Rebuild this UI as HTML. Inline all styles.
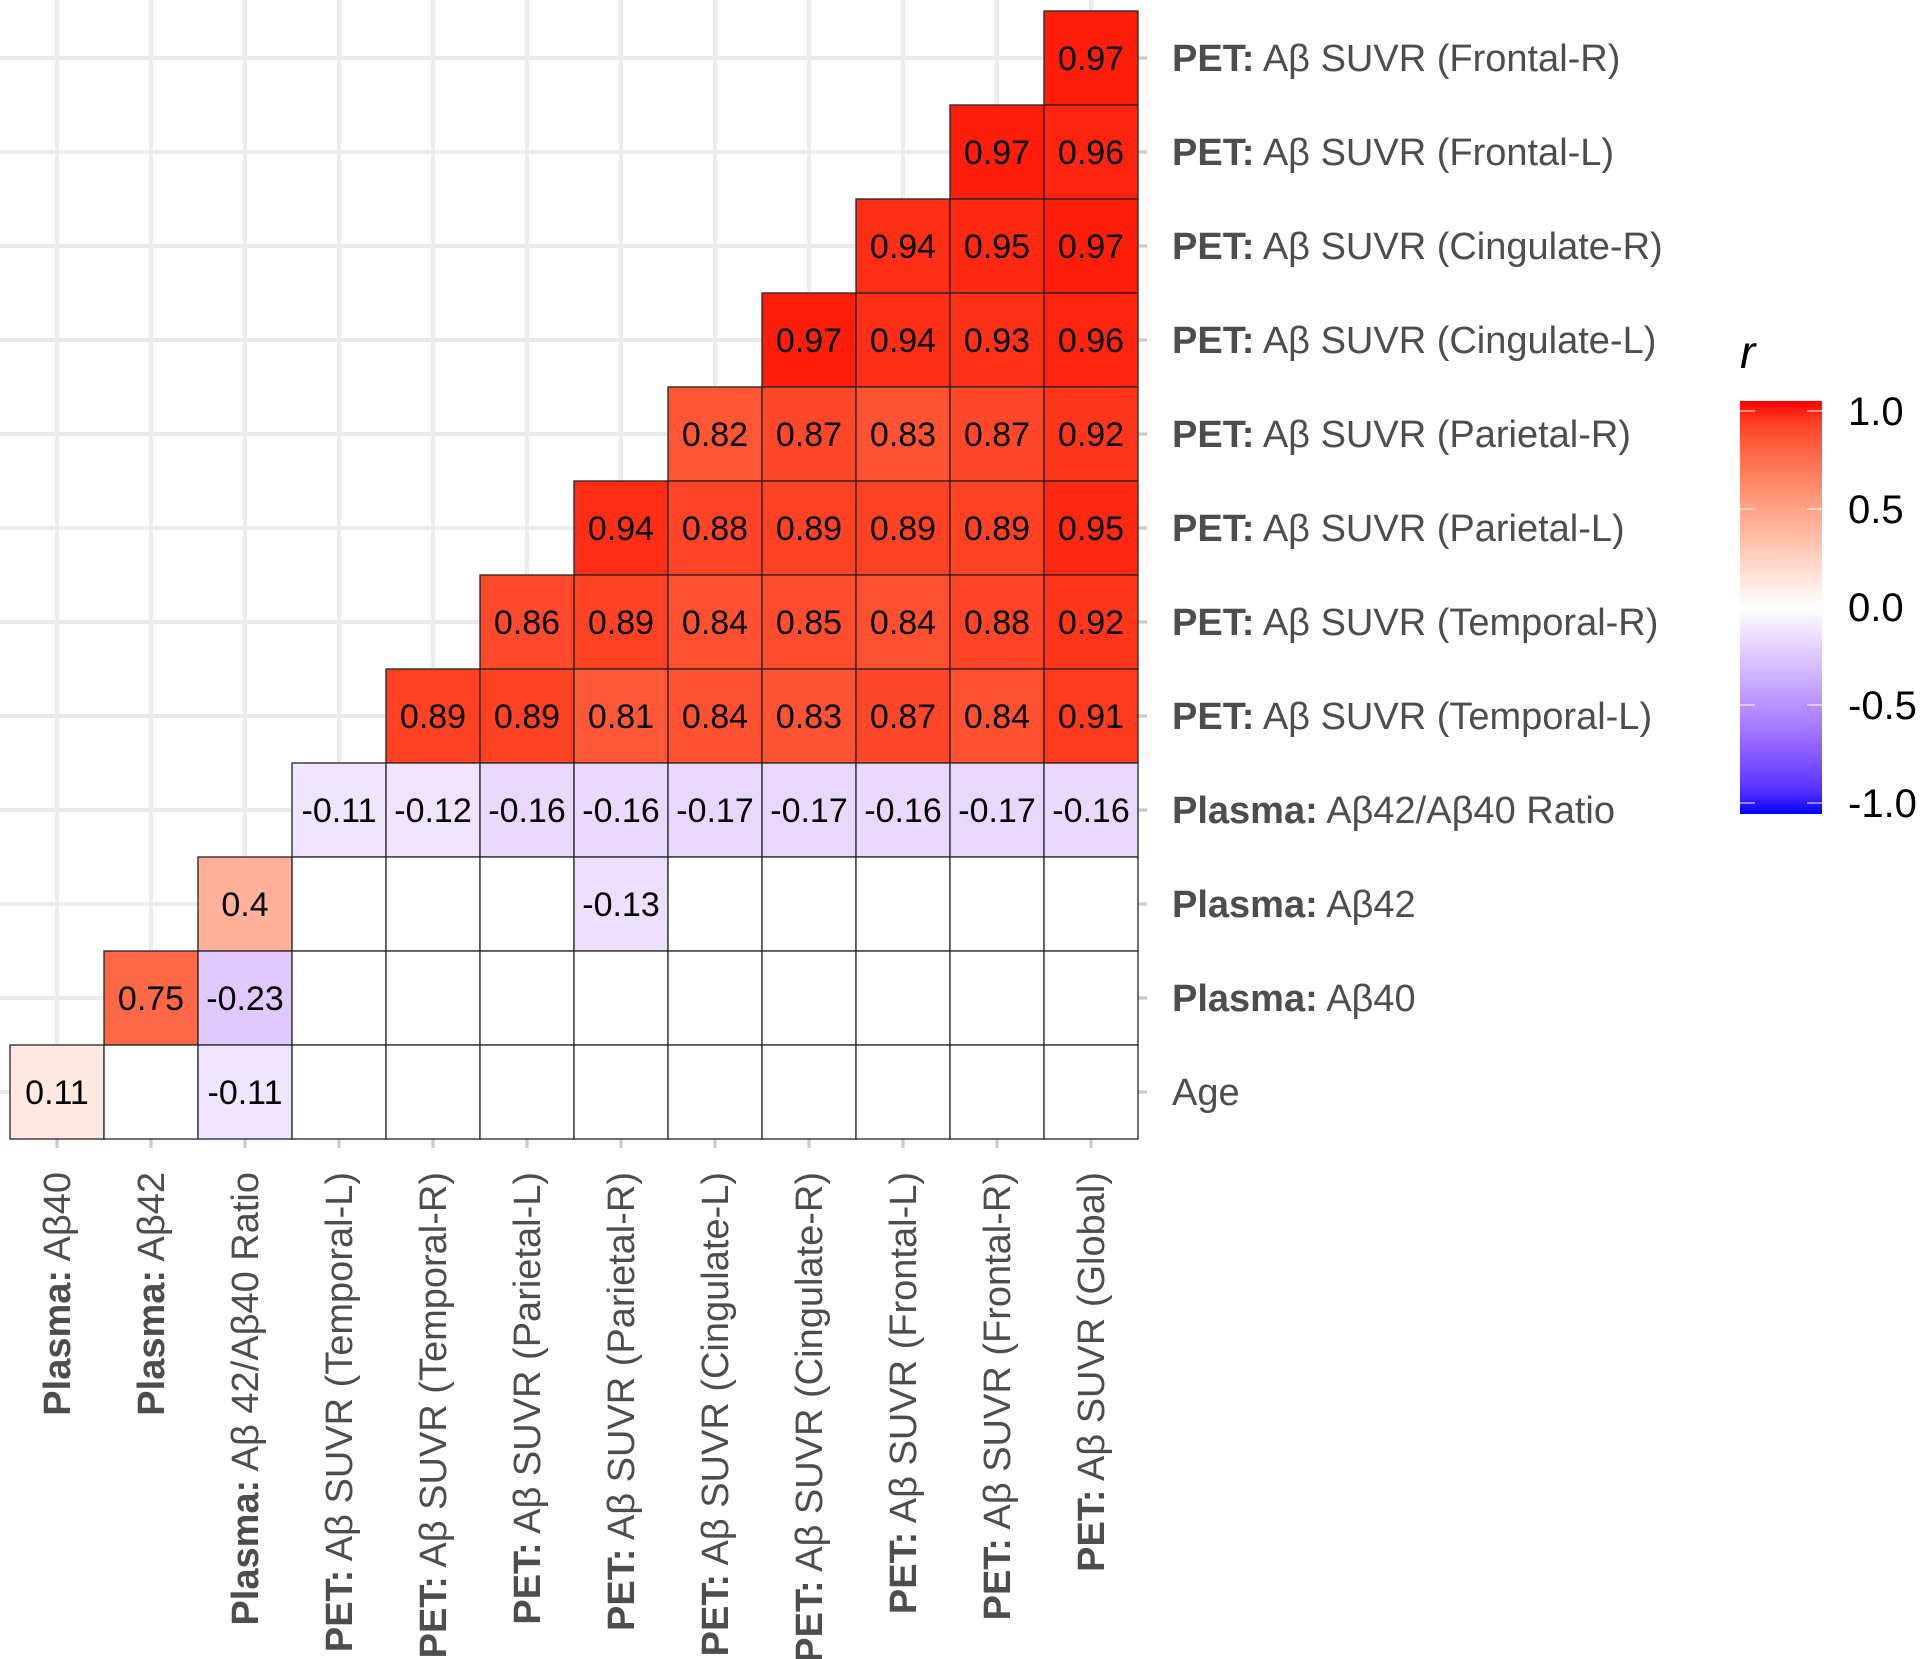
<!DOCTYPE html>
<html><head><meta charset="utf-8"><style>
html,body{margin:0;padding:0;background:#fff;}
svg{display:block;font-family:"Liberation Sans",sans-serif;}
</style></head><body>
<svg id="chart" width="1921" height="1659" viewBox="0 0 1921 1659">
<g id="grid"></g><g id="tiles"></g><g id="ylabels"></g><g id="xlabels"></g><g id="legend"></g>
</svg>
<script>
const colLabels = [["Plasma:"," Aβ40"],["Plasma:"," Aβ42"],["Plasma:"," Aβ 42/Aβ40 Ratio"],["PET:"," Aβ SUVR (Temporal-L)"],["PET:"," Aβ SUVR (Temporal-R)"],["PET:"," Aβ SUVR (Parietal-L)"],["PET:"," Aβ SUVR (Parietal-R)"],["PET:"," Aβ SUVR (Cingulate-L)"],["PET:"," Aβ SUVR (Cingulate-R)"],["PET:"," Aβ SUVR (Frontal-L)"],["PET:"," Aβ SUVR (Frontal-R)"],["PET:"," Aβ SUVR (Global)"]];
const rowLabels = [["PET:"," Aβ SUVR (Frontal-R)"],["PET:"," Aβ SUVR (Frontal-L)"],["PET:"," Aβ SUVR (Cingulate-R)"],["PET:"," Aβ SUVR (Cingulate-L)"],["PET:"," Aβ SUVR (Parietal-R)"],["PET:"," Aβ SUVR (Parietal-L)"],["PET:"," Aβ SUVR (Temporal-R)"],["PET:"," Aβ SUVR (Temporal-L)"],["Plasma:"," Aβ42/Aβ40 Ratio"],["Plasma:"," Aβ42"],["Plasma:"," Aβ40"],["","Age"]];
// values per row, starting at column (11 - rowIndex); null = not significant (white tile)
const rowValues = [
 [0.97],
 [0.97,0.96],
 [0.94,0.95,0.97],
 [0.97,0.94,0.93,0.96],
 [0.82,0.87,0.83,0.87,0.92],
 [0.94,0.88,0.89,0.89,0.89,0.95],
 [0.86,0.89,0.84,0.85,0.84,0.88,0.92],
 [0.89,0.89,0.81,0.84,0.83,0.87,0.84,0.91],
 [-0.11,-0.12,-0.16,-0.16,-0.17,-0.17,-0.16,-0.17,-0.16],
 [0.4,null,null,null,-0.13,null,null,null,null,null],
 [0.75,-0.23,null,null,null,null,null,null,null,null,null],
 [0.11,null,-0.11,null,null,null,null,null,null,null,null,null]
];
const legendTicks = [1.0,0.5,0.0,-0.5,-1.0];

const NS="http://www.w3.org/2000/svg";
const X0=10,Y0=11,CELL=94,N=12;
const xPos=c=>X0+c*CELL, yPos=r=>Y0+r*CELL;
function mk(tag,attrs,parent){const e=document.createElementNS(NS,tag);for(const k in attrs)e.setAttribute(k,attrs[k]);parent.appendChild(e);return e;}
function toLin(c){c/=255;return c<=0.04045?c/12.92:Math.pow((c+0.055)/1.055,2.4);}
function fromLin(c){c=c<=0.0031308?12.92*c:1.055*Math.pow(c,1/2.4)-0.055;return Math.max(0,Math.min(255,Math.round(c*255)));}
function rgb2lab(r,g,b){r=toLin(r);g=toLin(g);b=toLin(b);let x=(r*0.4124+g*0.3576+b*0.1805)/0.95047,y=r*0.2126+g*0.7152+b*0.0722,z=(r*0.0193+g*0.1192+b*0.9505)/1.08883;const f=t=>t>0.008856?Math.cbrt(t):7.787*t+16/116;x=f(x);y=f(y);z=f(z);return[116*y-16,500*(x-y),200*(y-z)];}
function lab2rgb(L,a,b){let y=(L+16)/116,x=a/500+y,z=y-b/200;const g=t=>t*t*t>0.008856?t*t*t:(t-16/116)/7.787;x=g(x)*0.95047;y=g(y);z=g(z)*1.08883;const r=x*3.2406+y*-1.5372+z*-0.4986,gg=x*-0.9689+y*1.8758+z*0.0415,bb=x*0.0557+y*-0.2040+z*1.0570;return`rgb(${fromLin(r)},${fromLin(gg)},${fromLin(bb)})`;}
const W=rgb2lab(255,255,255),R=rgb2lab(255,0,0),B=rgb2lab(0,0,255);
function col(v){const t=Math.min(1,Math.abs(v)),e=v>=0?R:B;return lab2rgb(W[0]+(e[0]-W[0])*t,W[1]+(e[1]-W[1])*t,W[2]+(e[2]-W[2])*t);}

const grid=document.getElementById('grid');
for(let i=0;i<N;i++){
  const l1=mk('line',{x1:xPos(i)+CELL/2,x2:xPos(i)+CELL/2,y1:0,y2:Y0+N*CELL+9,stroke:'#ebebeb','stroke-width':4},grid);
  
  
  const l2=mk('line',{x1:0,x2:X0+N*CELL+9,y1:yPos(i)+CELL/2,y2:yPos(i)+CELL/2,stroke:'#ebebeb','stroke-width':4},grid);
  
  
  const t1=mk('line',{x1:xPos(i)+CELL/2,x2:xPos(i)+CELL/2,y1:Y0+N*CELL,y2:Y0+N*CELL+9,stroke:'#cccccc','stroke-width':3},grid);
  
  
  const t2=mk('line',{x1:X0+N*CELL,x2:X0+N*CELL+9,y1:yPos(i)+CELL/2,y2:yPos(i)+CELL/2,stroke:'#cccccc','stroke-width':3},grid);
  
  
}
const tiles=document.getElementById('tiles');
rowValues.forEach((vals,r)=>{
  const start=11-r;
  vals.forEach((v,k)=>{
    const c=start+k;
    const rect=mk('rect',{x:xPos(c),y:yPos(r),width:CELL,height:CELL,fill:v===null?'#ffffff':col(v),stroke:'#222','stroke-width':1.3},tiles);
    
    
    if(v!==null){
      const t=mk('text',{x:xPos(c)+CELL/2,y:yPos(r)+CELL/2+12,'text-anchor':'middle','font-size':34,fill:'#000'},tiles);
      t.textContent=String(v);
      
      
    }
  });
});
const yl=document.getElementById('ylabels');
rowLabels.forEach((lab,r)=>{
  const t=mk('text',{x:1172,y:yPos(r)+CELL/2+13,'font-size':38,fill:'#4d4d4d'},yl);
  
  
  if(lab[0]){const b=mk('tspan',{'font-weight':'bold'},t);b.textContent=lab[0];}
  const s=mk('tspan',{},t);s.textContent=lab[1];
});
const xl=document.getElementById('xlabels');
colLabels.forEach((lab,c)=>{
  const cx=xPos(c)+CELL/2+13, ty=1172;
  const t=mk('text',{x:0,y:0,'font-size':38,fill:'#4d4d4d','text-anchor':'end',transform:`translate(${cx},${ty}) rotate(-90)`},xl);
  
  
  const b=mk('tspan',{'font-weight':'bold'},t);b.textContent=lab[0];
  const s=mk('tspan',{},t);s.textContent=lab[1];
});
const lg=document.getElementById('legend');
const defs=mk('defs',{},lg);
const grad=mk('linearGradient',{id:'lgGrad',x1:0,y1:0,x2:0,y2:1},defs);
for(let i=0;i<=20;i++){const v=1-i/10;mk('stop',{offset:(i/20*100)+'%','stop-color':col(v)},grad);}
const LX=1740,LW=82,LT=401,LB=814,TOP1=411,BOT1=803;
const ly=v=>TOP1+(1-v)/2*(BOT1-TOP1);
const bar=mk('rect',{x:LX,y:LT,width:LW,height:LB-LT,fill:'url(#lgGrad)'},lg);


const ttl=mk('text',{x:1740,y:368,'font-size':46,'font-style':'italic',fill:'#000'},lg);
ttl.textContent='r';


legendTicks.forEach(v=>{
  const y=ly(v);
  mk('line',{x1:LX,x2:LX+15,y1:y,y2:y,stroke:'#fff','stroke-width':1},lg);
  mk('line',{x1:LX+LW-15,x2:LX+LW,y1:y,y2:y,stroke:'#fff','stroke-width':1},lg);
  const t=mk('text',{x:1848,y:y+14,'font-size':40,fill:'#000'},lg);
  t.textContent=v.toFixed(1);
  
  
});
</script>
</body></html>
